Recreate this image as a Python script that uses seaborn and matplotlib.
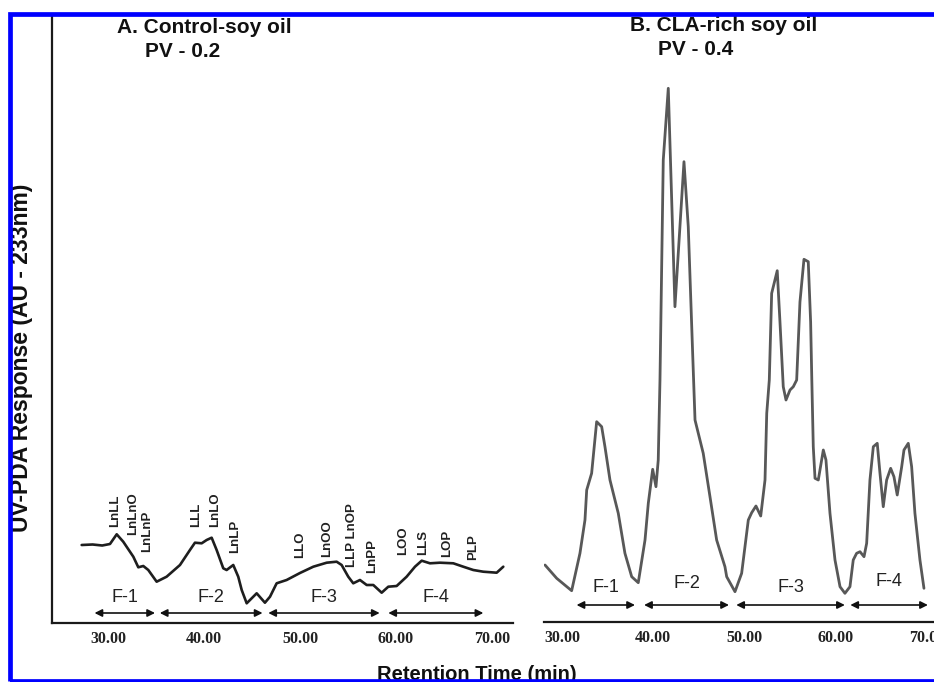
import numpy as np
import pandas as pd
import matplotlib
matplotlib.use("Agg")
import matplotlib.pyplot as plt
import seaborn as sns
from matplotlib.patches import Rectangle

# ---------------- data ----------------
time_a = [27.26, 28.4, 29.4, 30.21, 30.91, 31.59, 32.64, 33.16, 33.68, 34.20, 35.07,
          36.11, 37.50, 38.54, 39.06, 39.76, 40.28, 40.80, 41.32, 42.01, 42.36, 43.05,
          43.57, 43.93, 44.45, 44.97, 45.49, 46.35, 46.88, 47.57, 48.61, 50.00, 51.39,
          52.78, 53.82, 54.34, 55.03, 55.55, 56.25, 56.95, 57.64, 58.51, 59.20, 60.07,
          61.11, 61.98, 62.68, 63.54, 64.58, 65.97, 67.01, 68.05, 69.09, 70.49, 71.18]
resp_a = [78, 78.5, 77.5, 79, 88.7, 81.3, 66.3, 55.7, 57, 53, 41.3,
          46.3, 58, 73, 80.3, 79.7, 83, 85.3, 73, 54.7, 53, 58,
          46.3, 33, 19.7, 24.7, 29.7, 20.3, 26.3, 39.7, 43, 50, 56.3,
          60.3, 61.3, 58, 46.3, 39.7, 43, 38, 38, 30.3, 36.3, 37,
          46.3, 56.3, 62.3, 59.7, 60.3, 59.7, 56.3, 53, 51.3, 50.3, 56.3]

time_b = [28.14, 29.42, 31.06, 31.97, 32.52, 32.71, 33.25, 33.80, 34.35, 34.71, 35.26,
          36.17, 36.90, 37.64, 38.36, 39.10, 39.46, 39.94, 40.30, 40.55, 40.74, 41.10,
          41.65, 42.38, 43.37, 43.84, 44.32, 44.58, 45.48, 46.22, 46.95, 47.86, 48.05,
          48.96, 49.69, 50.42, 50.79, 51.26, 51.78, 52.25, 52.44, 52.72, 52.98, 53.59,
          53.89, 54.25, 54.55, 54.99, 55.35, 55.72, 56.08, 56.52, 56.99, 57.25, 57.38,
          57.54, 57.73, 58.09, 58.64, 58.93, 59.37, 59.92, 60.47, 61.01, 61.56, 61.92,
          62.29, 62.66, 63.10, 63.39, 63.75, 64.12, 64.55, 64.85, 65.21, 65.58, 66.02,
          66.38, 66.74, 67.23, 67.48, 67.95, 68.32, 68.68, 69.23, 69.67]
resp_b = [57, 43.7, 31.3, 68.7, 102, 132, 148.7, 200.3, 195.3, 175.3, 142,
          108.7, 68.7, 45.3, 39.3, 82, 118.7, 152.7, 135.3, 162, 242, 462,
          533.7, 315.3, 460.3, 395.3, 269, 202, 168.7, 125.3, 82, 55.3, 45.3,
          30.3, 48.7, 102, 109.3, 116, 106, 142, 208.7, 242, 328.7, 351.3,
          300, 235.3, 222, 232, 235.3, 242, 320, 362.7, 360.3, 300, 242,
          175.3, 143.7, 142, 172, 162, 108.7, 62, 35.3, 28.7, 35.3, 62,
          68.7, 70.3, 65.3, 78.7, 142, 175.3, 178.7, 148.7, 115.3, 142, 153.7,
          145.3, 127, 155.3, 172, 178.7, 155.3, 108.7, 62, 33.7]

peak_names_a = ["LnLL", "LnLnO", "LnLnP", "LLL", "LnLO", "LnLP", "LLO", "LnOO",
                "LLP LnOP", "LnPP", "LOO", "LLS", "LOP", "PLP"]
peak_times_a = [30.73, 32.60, 34.06, 39.17, 41.15, 43.23, 50.0, 52.81,
                55.42, 57.5, 60.73, 62.81, 65.31, 68.02]
peak_label_base_a = [96, 88, 71, 96, 96, 70, 65, 66, 56, 50, 68, 68, 66, 63]

fractions = ["F-1", "F-2", "F-3", "F-4"]
frac_start_a = [28.6, 35.4, 46.7, 59.2]
frac_end_a = [34.9, 46.1, 58.3, 69.1]
frac_start_b = [31.6, 39.0, 49.1, 61.6]
frac_end_b = [38.0, 48.3, 61.0, 70.1]

xticks = [30, 40, 50, 60, 70]
xtick_labels = ["30.00", "40.00", "50.00", "60.00", "70.00"]

titles = ["A. Control-soy oil", "B. CLA-rich soy oil"]
pv_labels = ["PV - 0.2", "PV - 0.4"]
ylabel = "UV-PDA Response (AU - 233nm)"
xlabel = "Retention Time (min)"

# ---------------- figure ----------------
sns.set_style("white")
plt.rcParams["font.family"] = ["Liberation Sans", "DejaVu Sans"]

W, H = 934, 682
fig = plt.figure(figsize=(W / 100, H / 100), dpi=100)

def fx(px):
    return px / W

def fy(py):
    return 1 - py / H

ax_a = fig.add_axes([fx(52), fy(623), fx(513 - 52), (623 - 16) / H])
ax_b = fig.add_axes([fx(544), fy(622), 1 - fx(544), (622 - 16) / H])

df_a = pd.DataFrame({"time": time_a, "resp": resp_a})
df_b = pd.DataFrame({"time": time_b, "resp": resp_b})

sns.lineplot(data=df_a, x="time", y="resp", ax=ax_a, color="#1e1e1e",
             linewidth=1.9, estimator=None, sort=False)
sns.lineplot(data=df_b, x="time", y="resp", ax=ax_b, color="#585858",
             linewidth=2.0, estimator=None, sort=False)

ax_a.set_xlim(24.17, 72.19)
ax_a.set_ylim(0, 607)
ax_b.set_xlim(28.03, 70.77)
ax_b.set_ylim(0, 606)

tick_font = dict(family=["Liberation Serif", "DejaVu Serif"], weight="bold", size=11.5)
for ax in (ax_a, ax_b):
    ax.set_xlabel("")
    ax.set_ylabel("")
    ax.set_xticks(xticks)
    ax.set_xticklabels(xtick_labels, fontdict=tick_font, color="#222222")
    ax.set_yticks([])
    ax.tick_params(axis="x", direction="out", length=7, width=1.0,
                   color="#555555", pad=-1)
    ax.spines["top"].set_visible(False)
    ax.spines["right"].set_visible(False)
    ax.spines["bottom"].set_linewidth(1.6)
    ax.spines["bottom"].set_color("#1a1a1a")
    ax.patch.set_alpha(0)

ax_a.spines["left"].set_linewidth(1.6)
ax_a.spines["left"].set_color("#1a1a1a")
ax_b.spines["left"].set_visible(False)

# peak labels (panel A)
for name, t, base in zip(peak_names_a, peak_times_a, peak_label_base_a):
    ax_a.text(t, base, name, rotation=90, ha="center", va="bottom",
              family=["Liberation Sans Narrow", "Liberation Sans", "DejaVu Sans"],
              weight="bold", fontsize=9.5, color="#222222")

# fraction arrows
def draw_fractions(ax, starts, ends, arrow_y, label_ys):
    for name, s, e, ly in zip(fractions, starts, ends, label_ys):
        ax.annotate("", xy=(e, arrow_y), xytext=(s, arrow_y),
                    arrowprops=dict(arrowstyle="<|-|>", color="#111111", lw=1.2,
                                    mutation_scale=11, shrinkA=0, shrinkB=0))
        ax.text((s + e) / 2, ly, name, ha="center", va="center",
                fontsize=13, color="#222222")

draw_fractions(ax_a, frac_start_a, frac_end_a, 10, [26, 26, 26, 26])
draw_fractions(ax_b, frac_start_b, frac_end_b, 17, [34, 39, 35, 40])

# titles
title_kw = dict(weight="bold", fontsize=15, color="#111111")
fig.text(fx(117), fy(33), titles[0], ha="left", va="baseline", **title_kw)
fig.text(fx(145), fy(57), pv_labels[0], ha="left", va="baseline", **title_kw)
fig.text(fx(630), fy(31), titles[1], ha="left", va="baseline", **title_kw)
fig.text(fx(658), fy(55), pv_labels[1], ha="left", va="baseline", **title_kw)

# axis labels
fig.text(fx(22), fy(358), ylabel, rotation=90, ha="center", va="center",
         weight="bold", fontsize=16.5, color="#111111")
fig.text(fx(477), fy(680), xlabel, ha="center", va="baseline",
         weight="bold", fontsize=14.5, color="#111111")

# blue frame
frame = Rectangle((fx(9.5), fy(680.5)), 1.2, fy(14) - fy(680.5),
                  transform=fig.transFigure, fill=False, edgecolor="#0000ff",
                  linewidth=3.4, zorder=100, clip_on=False)
fig.patches.append(frame)

fig.savefig("out.png", dpi=100)
